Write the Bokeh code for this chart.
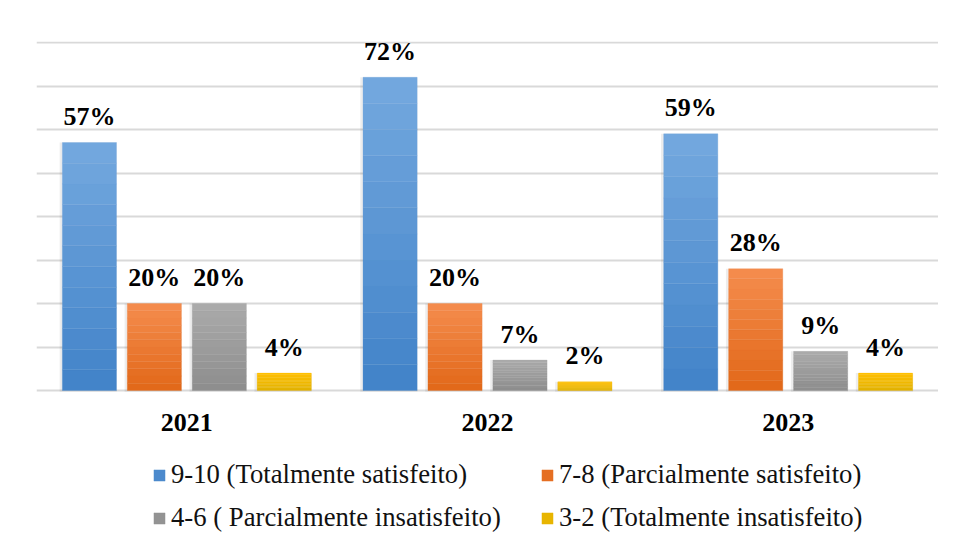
from bokeh.plotting import figure
from bokeh.models import (ColumnDataSource, FactorRange, Range1d, Legend, LegendItem,
                          FixedTicker)
from bokeh.transform import dodge
from bokeh.core.properties import value
from bokeh.embed import file_html
from bokeh.resources import INLINE

years = ["2021", "2022", "2023"]
series = ["9-10 (Totalmente satisfeito)", "7-8 (Parcialmente satisfeito)",
          "4-6 ( Parcialmente insatisfeito)", "3-2 (Totalmente insatisfeito)"]
v_9_10 = [57, 72, 59]
v_7_8 = [20, 20, 28]
v_4_6 = [20, 7, 9]
v_3_2 = [4, 2, 4]

values = [v_9_10, v_7_8, v_4_6, v_3_2]
offsets = [-0.324, -0.108, 0.108, 0.324]
top_colors = ["#72A7DE", "#F48B4C", "#AAAAAA", "#FFC000"]
bot_colors = ["#4384C9", "#E2691A", "#8E8E8E", "#E3B200"]

FONT = "Liberation Serif"

p = figure(x_range=FactorRange(*years), y_range=Range1d(-32.87, 80.23),
           width=938, height=533, output_backend="svg", toolbar_location=None,
           x_axis_location=None, y_axis_location=None,
           min_border_left=36, min_border_right=0, min_border_top=41, min_border_bottom=0)
p.outline_line_color = None

p.ygrid.ticker = FixedTicker(ticks=[0, 10, 20, 30, 40, 50, 60, 70, 80])
p.ygrid.grid_line_color = "#D9D9D9"
p.ygrid.grid_line_width = 2
p.xgrid.grid_line_color = None


def mix(c1, c2, t):
    a = [int(c1[i:i + 2], 16) for i in (1, 3, 5)]
    b = [int(c2[i:i + 2], 16) for i in (1, 3, 5)]
    return "#%02x%02x%02x" % tuple(round(a[j] + (b[j] - a[j]) * t) for j in range(3))


N = 12
renderers = []
for s, (vals, off) in enumerate(zip(values, offsets)):
    sh = ColumnDataSource(dict(year=years, top=vals))
    p.vbar(x=dodge("year", off - 0.004, range=p.x_range), top="top", width=0.19,
           bottom=-0.3, source=sh, fill_color="#000000", fill_alpha=0.07, line_color=None)
    legend_r = None
    for k in range(N):
        src = ColumnDataSource(dict(year=years,
                                    bottom=[v * k / N for v in vals],
                                    top=[v * (k + 1) / N for v in vals]))
        col = mix(bot_colors[s], top_colors[s], k / (N - 1))
        r = p.vbar(x=dodge("year", off, range=p.x_range), top="top", bottom="bottom",
                   width=0.18, source=src, fill_color=col, line_color=col, line_width=0.3)
        if k == 2:
            legend_r = r
    renderers.append(legend_r)
    lab = ColumnDataSource(dict(year=years, top=vals, txt=[f"{v}%" for v in vals]))
    p.text(x=dodge("year", off, range=p.x_range), y="top", text="txt", source=lab,
           text_font=value(FONT), text_font_style="bold", text_font_size="26px",
           text_color="#000000", text_align="center", text_baseline="alphabetic",
           y_offset=-26)

# category labels under the baseline
cat = ColumnDataSource(dict(year=years, y=[0] * len(years)))
p.text(x="year", y="y", text="year", source=cat, text_font=value(FONT),
       text_font_style="bold", text_font_size="26px", text_color="#000000",
       text_align="center", text_baseline="alphabetic", y_offset=32)

order = [0, 2, 1, 3]
legend_items = [LegendItem(label=series[i], renderers=[renderers[i]]) for i in order]
legend = Legend(items=legend_items, ncols=2,
                location=(116, 0), label_text_font=FONT, label_text_font_size="26.7px",
                label_text_color="#111111", glyph_width=14, glyph_height=14,
                label_standoff=5, label_width=357, label_height=30, spacing=12,
                padding=0, margin=0, border_line_color=None, background_fill_alpha=0)
p.add_layout(legend, "center")

open("out.html", "w").write(file_html(p, INLINE))
